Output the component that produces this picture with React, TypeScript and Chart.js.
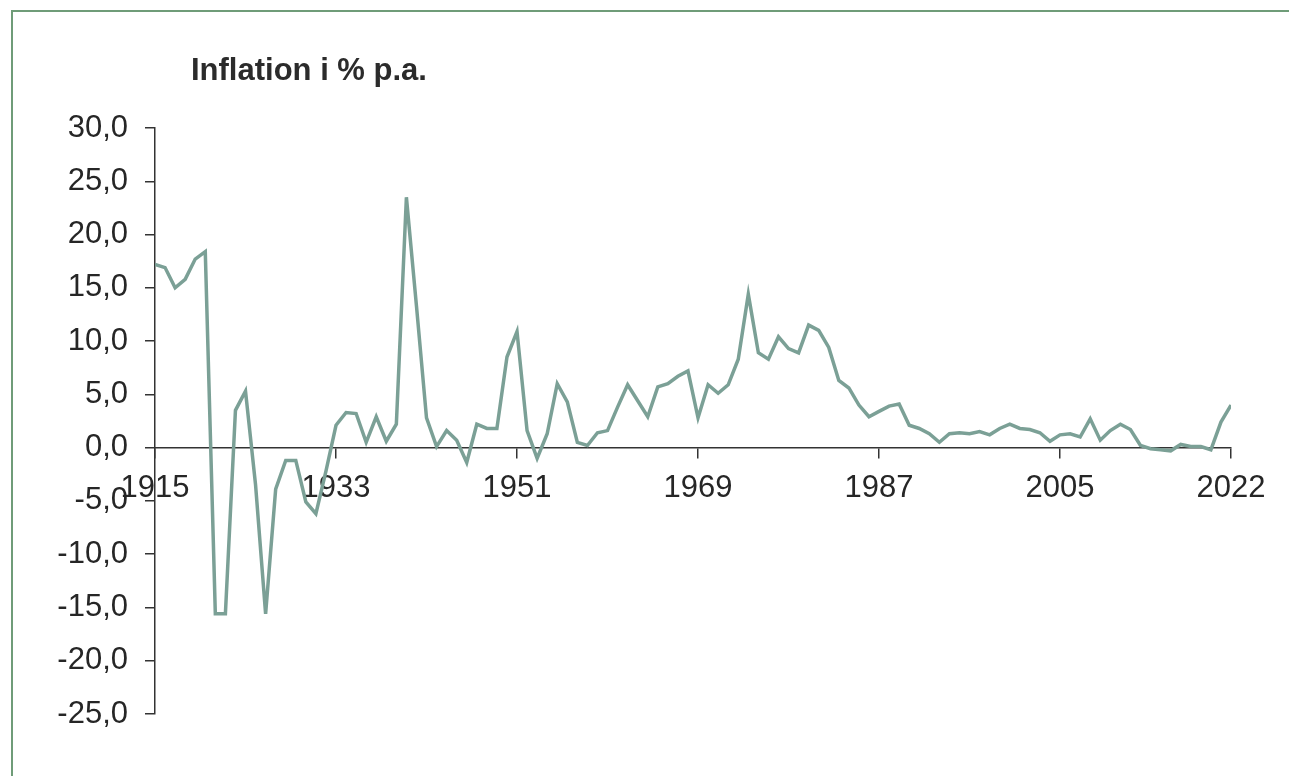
import React, { useEffect, useRef } from "react";
import { Chart, registerables } from "chart.js";

Chart.register(...registerables);

const TITLE = "Inflation i % p.a.";
const START_YEAR = 1915;
const END_YEAR = 2022;
const X_TICKS = [1915, 1933, 1951, 1969, 1987, 2005, 2022];
const Y_MIN = -25;
const Y_MAX = 30;
const Y_STEP = 5;

// Annual inflation, 1915-2022
const inflation = [
  17.2, 16.9, 15.0, 15.8, 17.7, 18.4, -15.6, -15.6, 3.5, 5.3, // 1915-1924
  -3.5, -15.6, -3.9, -1.2, -1.2, -5.1, -6.2, -2.2, 2.1, 3.3, // 1925-1934
  3.2, 0.5, 2.9, 0.6, 2.2, 23.5, 13.3, 2.8, 0.1, 1.6, // 1935-1944
  0.7, -1.4, 2.2, 1.8, 1.8, 8.5, 10.9, 1.6, -1.0, 1.3, // 1945-1954
  6.0, 4.3, 0.5, 0.2, 1.4, 1.6, 3.8, 5.9, 4.4, 2.9, // 1955-1964
  5.7, 6.0, 6.7, 7.2, 2.8, 5.9, 5.1, 5.9, 8.3, 14.4, // 1965-1974
  8.9, 8.3, 10.4, 9.3, 8.9, 11.5, 11.0, 9.4, 6.3, 5.6, // 1975-1984
  4.0, 2.9, 3.4, 3.9, 4.1, 2.1, 1.8, 1.3, 0.5, 1.3, // 1985-1994
  1.4, 1.3, 1.5, 1.2, 1.8, 2.2, 1.8, 1.7, 1.4, 0.6, // 1995-2004
  1.2, 1.3, 1.0, 2.7, 0.7, 1.6, 2.2, 1.7, 0.2, -0.1, // 2005-2014
  -0.2, -0.3, 0.3, 0.1, 0.1, -0.2, 2.4, 4.0, // 2015-2022
];

const years: number[] = [];
for (let y = START_YEAR; y <= END_YEAR; y++) years.push(y);

const FONT = "'Liberation Sans', Arial, Helvetica, sans-serif";
const LINE_COLOR = "#7ba096";
const AXIS_COLOR = "#333333";
const TEXT_COLOR = "#262626";
const FRAME_COLOR = "#6f9c78";

const framePlugin = {
  id: "frameAndTitle",
  beforeDraw(chart: any) {
    const ctx = chart.ctx;
    ctx.save();
    ctx.strokeStyle = FRAME_COLOR;
    ctx.lineWidth = 2;
    ctx.strokeRect(12, 11, chart.width + 50, chart.height + 50);
    ctx.restore();
  },
  afterDraw(chart: any) {
    const ctx = chart.ctx;
    ctx.save();
    ctx.fillStyle = "#2b2b2b";
    ctx.font = `bold 31px ${FONT}`;
    ctx.textBaseline = "alphabetic";
    ctx.textAlign = "left";
    ctx.fillText(TITLE, 191, 80);
    ctx.restore();
  },
};

export default function App() {
  const canvasRef = useRef<HTMLCanvasElement | null>(null);

  useEffect(() => {
    if (!canvasRef.current) return;
    const chart = new Chart(canvasRef.current, {
      type: "line",
      data: {
        datasets: [
          {
            label: TITLE,
            data: years.map((yr, i) => ({ x: yr, y: inflation[i] })),
            borderColor: LINE_COLOR,
            borderWidth: 3.5,
            pointRadius: 0,
            tension: 0,
            fill: false,
          },
        ],
      },
      options: {
        animation: false,
        responsive: false,
        maintainAspectRatio: false,
        layout: { padding: { left: 0, top: 128, right: 58, bottom: 62 } },
        plugins: {
          legend: { display: false },
          title: { display: false },
          tooltip: { enabled: false },
        },
        scales: {
          x: {
            type: "linear",
            min: START_YEAR,
            max: END_YEAR,
            position: { y: 0 } as any,
            afterBuildTicks: (scale: any) => {
              scale.ticks = X_TICKS.map((v) => ({ value: v }));
            },
            afterFit: (scale: any) => {
              scale.height = 0;
            },
            ticks: {
              autoSkip: false,
              maxRotation: 0,
              padding: 12,
              color: TEXT_COLOR,
              font: { family: FONT, size: 31 },
              callback: (v: any) => String(v),
            },
            grid: {
              drawOnChartArea: false,
              drawTicks: true,
              tickLength: 10,
              color: AXIS_COLOR,
              lineWidth: 1.5,
            },
            border: { display: true, color: AXIS_COLOR, width: 1.5 },
          },
          y: {
            type: "linear",
            min: Y_MIN,
            max: Y_MAX,
            position: "left",
            afterFit: (scale: any) => {
              scale.width = 155;
            },
            ticks: {
              stepSize: Y_STEP,
              padding: 17,
              color: TEXT_COLOR,
              font: { family: FONT, size: 31 },
              callback: (v: any) => Number(v).toFixed(1).replace(".", ","),
            },
            grid: {
              drawOnChartArea: false,
              drawTicks: true,
              tickLength: 10,
              color: AXIS_COLOR,
              lineWidth: 1.5,
            },
            border: { display: true, color: AXIS_COLOR, width: 1.5 },
          },
        },
      },
      plugins: [framePlugin],
    });
    return () => chart.destroy();
  }, []);

  return (
    <div style={{ position: "fixed", left: 0, top: 0, width: 1289, height: 776, background: "#ffffff" }}>
      <canvas ref={canvasRef} width={1289} height={776} style={{ width: 1289, height: 776, display: "block" }} />
    </div>
  );
}
